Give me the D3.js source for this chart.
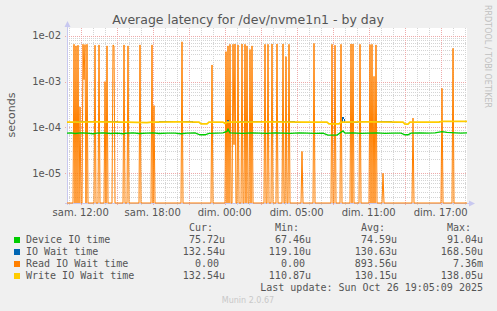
<!DOCTYPE html>
<html>
<head>
<meta charset="utf-8">
<script src="https://cdn.jsdelivr.net/npm/d3@7"></script>
<style>
  body { margin: 0; background: #f0f0f0; }
  svg { display: block; }
  text { font-family: "DejaVu Sans", sans-serif; }
  .mono { font-family: "DejaVu Sans Mono", monospace; font-size: 10px; fill: #555; white-space: pre; }
</style>
</head>
<body>
<div id="chart"></div>
<script>
// time window: 400 samples of 5 minutes
var startTime = new Date('2025-10-25T08:51:30Z');
var stepSec = 300;
var nSamples = 400;

var tickTimes = ['2025-10-25T10:00:00Z', '2025-10-25T16:00:00Z', '2025-10-25T22:00:00Z',
	'2025-10-26T04:00:00Z', '2025-10-26T10:00:00Z', '2025-10-26T16:00:00Z'];
var tickLabels = ['sam. 12:00', 'sam. 18:00', 'dim. 00:00', 'dim. 05:00', 'dim. 11:00', 'dim. 17:00'];
var yTicks = [1e-5, 1e-4, 1e-3, 1e-2];
var yTickLabels = ['1e-05', '1e-04', '1e-03', '1e-02'];

// [sample index, value] points
var deviceIO = [[0, 7.5e-5], [4, 7.6e-5], [8, 7.4e-5], [14, 7.6e-5], [20, 7.5e-5], [26, 7.3e-5], [30, 7.5e-5],
	[36, 7.6e-5], [44, 7.4e-5], [50, 7.5e-5], [56, 7.3e-5], [60, 7.5e-5], [66, 7.6e-5], [72, 7.4e-5],
	[80, 7.5e-5], [86, 7.6e-5], [92, 7.4e-5], [100, 7.5e-5], [108, 7.5e-5], [114, 7.3e-5], [120, 7.5e-5],
	[128, 7.6e-5], [133, 6.9e-5], [138, 6.9e-5], [142, 7.4e-5], [150, 7.5e-5], [156, 7.6e-5], [160, 8.2e-5],
	[161, 9.1e-5], [163, 7.6e-5], [168, 7.5e-5], [176, 7.4e-5], [184, 7.6e-5], [192, 7.5e-5], [200, 7.4e-5],
	[208, 7.6e-5], [216, 7.5e-5], [224, 7.4e-5], [232, 7.6e-5], [240, 7.5e-5], [248, 7.4e-5], [256, 7.5e-5],
	[261, 6.8e-5], [270, 6.8e-5], [276, 8.4e-5], [278, 7.5e-5], [286, 7.6e-5], [294, 7.4e-5], [302, 7.5e-5],
	[310, 7.6e-5], [318, 7.4e-5], [326, 7.5e-5], [334, 7.5e-5], [338, 6.9e-5], [341, 6.9e-5], [344, 7.5e-5],
	[352, 7.6e-5], [360, 7.5e-5], [368, 7.6e-5], [375, 8.1e-5], [380, 7.8e-5], [388, 7.6e-5], [394, 7.5e-5],
	[400, 7.6e-5]];
var ioWait = [[0, 1.31e-4], [30, 1.32e-4], [60, 1.31e-4], [80, 1.27e-4], [84, 1.31e-4], [110, 1.32e-4],
	[132, 1.31e-4], [134, 1.19e-4], [140, 1.19e-4], [142, 1.31e-4], [156, 1.31e-4], [158, 1.22e-4],
	[160, 1.31e-4], [161, 1.45e-4], [162, 1.31e-4], [200, 1.32e-4], [240, 1.31e-4], [260, 1.31e-4],
	[262, 1.19e-4], [272, 1.19e-4], [274, 1.31e-4], [275, 1.31e-4], [276, 1.7e-4], [277, 1.5e-4],
	[278, 1.31e-4], [285, 1.31e-4], [286, 1.4e-4], [287, 1.31e-4], [300, 1.32e-4], [336, 1.31e-4],
	[338, 1.18e-4], [341, 1.18e-4], [343, 1.31e-4], [372, 1.31e-4], [375, 1.36e-4], [400, 1.36e-4]];
var writeWait = [[0, 1.31e-4], [30, 1.32e-4], [60, 1.31e-4], [80, 1.27e-4], [84, 1.31e-4], [110, 1.32e-4],
	[132, 1.31e-4], [134, 1.19e-4], [140, 1.19e-4], [142, 1.31e-4], [156, 1.31e-4], [158, 1.22e-4],
	[160, 1.31e-4], [200, 1.32e-4], [240, 1.31e-4], [260, 1.31e-4], [262, 1.19e-4], [272, 1.19e-4],
	[274, 1.31e-4], [300, 1.32e-4], [336, 1.31e-4], [338, 1.18e-4], [341, 1.18e-4], [343, 1.31e-4],
	[372, 1.31e-4], [375, 1.36e-4], [400, 1.36e-4]];
// read io wait: every non zero sample, the rest is 0
var readSpikes = [[7, 6.5e-3], [9, 6.0e-3], [11, 6.2e-3], [13, 2.8e-4], [16, 6.5e-3], [17, 1.1e-3],
	[18, 6.4e-3], [20, 6.5e-3], [28, 6.2e-3], [32, 6.3e-3], [38, 1.0e-3], [40, 6e-3], [46, 6.3e-3],
	[47, 6e-3], [57, 6.3e-3], [61, 6e-3], [73, 6.3e-3], [85, 6.3e-3], [87, 3e-4], [115, 7.36e-3],
	[145, 2.3e-3], [159, 4.5e-3], [161, 6e-3], [163, 6.5e-3], [166, 6.5e-3], [167, 4.2e-5],
	[168, 6.6e-3], [171, 6.3e-3], [175, 6.6e-3], [178, 6.5e-3], [180, 6e-3], [183, 5e-3], [185, 6e-3],
	[198, 6.5e-3], [201, 6.5e-3], [205, 6.6e-3], [210, 6.6e-3], [216, 6.6e-3], [219, 3.5e-3],
	[222, 6.5e-3], [235, 3e-5], [247, 6.8e-3], [265, 6.5e-3], [268, 6.2e-3], [274, 6.5e-3],
	[284, 6.6e-3], [286, 6.6e-3], [293, 6.5e-3], [303, 6.4e-3], [305, 6.5e-3], [307, 1.3e-3],
	[309, 6.3e-3], [316, 1e-5], [346, 1.6e-4], [375, 7.1e-4], [386, 5.3e-3]];

var seriesNames = ['Device IO time', 'IO Wait time', 'Read IO Wait time', 'Write IO Wait time'];
var seriesColors = ['#00cc00', '#0066b3', '#ff8000', '#ffcc00'];
var curVals = ['75.72u', '132.54u', '0.00 ', '132.54u'];
var minVals = ['67.46u', '119.10u', '0.00 ', '110.87u'];
var avgVals = ['74.59u', '130.63u', '893.56u', '130.15u'];
var maxVals = ['91.04u', '168.50u', '7.36m', '138.05u'];

var W = 497, H = 311;
var plotL = 67, plotR = 467, plotT = 28, plotB = 203;

var svg = d3.select('#chart').append('svg')
	.attr('width', W)
	.attr('height', H);
svg.append('rect').attr('width', W).attr('height', H).attr('fill', '#f0f0f0');

var endTime = new Date(startTime.getTime() + nSamples * stepSec * 1000);
var x = d3.scaleUtc().domain([startTime, endTime]).range([plotL, plotR]);
var y = d3.scaleLog().domain([2.25e-6, 0.01472]).range([plotB, plotT]);

function sampleTime(i) { return new Date(startTime.getTime() + i * stepSec * 1000); }

svg.append('rect')
	.attr('x', plotL).attr('y', plotT)
	.attr('width', plotR - plotL).attr('height', plotB - plotT)
	.attr('fill', '#ffffff');

// grid
var grid = svg.append('g').attr('class', 'grid');
var minorY = [];
for (var e = -6; e <= -2; e++) {
	for (var m = 2; m <= 9; m++) {
		var v = m * Math.pow(10, e);
		if (v > y.domain()[0] && v < y.domain()[1]) minorY.push(v);
	}
}
grid.selectAll('line.minory').data(minorY).enter().append('line')
	.attr('x1', plotL).attr('x2', plotR)
	.attr('y1', function(d) { return Math.round(y(d)) + 0.5; })
	.attr('y2', function(d) { return Math.round(y(d)) + 0.5; })
	.attr('stroke', '#d4d4d4').attr('stroke-dasharray', '1,1');

var hours = d3.utcHour.range(startTime, endTime);
grid.selectAll('line.minorx').data(hours).enter().append('line')
	.attr('x1', function(d) { return Math.round(x(d)) + 0.5; })
	.attr('x2', function(d) { return Math.round(x(d)) + 0.5; })
	.attr('y1', plotT).attr('y2', plotB + 2)
	.attr('stroke', function(d) { return (d.getUTCHours() % 3 === 1) ? '#eeaaaa' : '#d4d4d4'; })
	.attr('stroke-dasharray', '1,1');

grid.selectAll('line.majory').data(yTicks).enter().append('line')
	.attr('x1', plotL - 2).attr('x2', plotR)
	.attr('y1', function(d) { return Math.round(y(d)) + 0.5; })
	.attr('y2', function(d) { return Math.round(y(d)) + 0.5; })
	.attr('stroke', '#eeaaaa').attr('stroke-dasharray', '1,1');

// axes
svg.append('line').attr('x1', plotL + 0.5).attr('x2', plotL + 0.5).attr('y1', plotT - 2).attr('y2', plotB + 2)
	.attr('stroke', '#c8c8f0');
svg.append('line').attr('x1', plotL - 2).attr('x2', plotR + 3).attr('y1', plotB + 0.5).attr('y2', plotB + 0.5)
	.attr('stroke', '#c8c8f0');
svg.append('path').attr('d', 'M' + (plotL - 2.5) + ',' + (plotT - 1) + 'L' + (plotL + 0.5) + ',' + (plotT - 7) + 'L' + (plotL + 3.5) + ',' + (plotT - 1) + 'Z')
	.attr('fill', '#c8c8f0');
svg.append('path').attr('d', 'M' + (plotR + 2) + ',' + (plotB - 2.5) + 'L' + (plotR + 8) + ',' + (plotB + 0.5) + 'L' + (plotR + 2) + ',' + (plotB + 3.5) + 'Z')
	.attr('fill', '#c8c8f0');

// series
function clampY(v) {
	var d = y.domain();
	return y(Math.min(Math.max(v, d[0]), d[1]));
}
var readSeries = d3.range(nSamples + 1).map(function(i) { return [i, 0]; });
readSpikes.forEach(function(s) { readSeries[s[0]] = s; });

var line = d3.line()
	.x(function(d) { return x(sampleTime(d[0])); })
	.y(function(d) { return clampY(d[1]); });

svg.append('path').datum(readSeries)
	.attr('d', line)
	.attr('fill', 'none').attr('stroke', seriesColors[2]).attr('stroke-width', 1);

svg.append('path').datum(deviceIO)
	.attr('d', line)
	.attr('fill', 'none').attr('stroke', seriesColors[0]).attr('stroke-width', 1.4);
svg.append('path').datum(ioWait)
	.attr('d', line)
	.attr('fill', 'none').attr('stroke', seriesColors[1]).attr('stroke-width', 1)
	.attr('shape-rendering', 'crispEdges');
svg.append('path').datum(writeWait)
	.attr('d', line)
	.attr('fill', 'none').attr('stroke', seriesColors[3]).attr('stroke-width', 1.7);

// tick labels
svg.selectAll('text.xlab').data(tickTimes).enter().append('text')
	.attr('x', function(d) { return x(new Date(d)); })
	.attr('y', 216)
	.attr('text-anchor', 'middle')
	.attr('font-size', 10).attr('fill', '#555')
	.text(function(d, i) { return tickLabels[i]; });
svg.selectAll('text.ylab').data(yTicks).enter().append('text')
	.attr('x', 61)
	.attr('y', function(d) { return y(d) + 3.5; })
	.attr('text-anchor', 'end')
	.attr('font-size', 10).attr('fill', '#555')
	.text(function(d, i) { return yTickLabels[i]; });

svg.append('text')
	.attr('transform', 'translate(15,115) rotate(-90)')
	.attr('text-anchor', 'middle')
	.attr('font-size', 11).attr('fill', '#555')
	.text('seconds');

svg.append('text')
	.attr('x', 248).attr('y', 24)
	.attr('text-anchor', 'middle')
	.attr('font-size', 12.5).attr('fill', '#555')
	.text('Average latency for /dev/nvme1n1 - by day');

svg.append('text')
	.attr('transform', 'translate(485,5) rotate(90)')
	.attr('font-size', 8).attr('fill', '#c0c0c0')
	.text('RRDTOOL / TOBI OETIKER');

// legend
var legend = svg.append('g');
var colEnds = [225, 311, 397, 483];
var headers = ['Cur:', 'Min:', 'Avg:', 'Max:'];
legend.selectAll('text.hdr').data(headers).enter().append('text')
	.attr('class', 'mono')
	.attr('x', function(d, i) { return colEnds[i] - 12; })
	.attr('y', 231)
	.attr('text-anchor', 'end')
	.text(function(d) { return d; });

seriesNames.forEach(function(name, i) {
	var by = 243 + i * 12;
	legend.append('rect')
		.attr('x', 14).attr('y', by - 6).attr('width', 6).attr('height', 6)
		.attr('fill', seriesColors[i]);
	legend.append('text').attr('class', 'mono').attr('x', 26).attr('y', by).text(name);
	[curVals, minVals, avgVals, maxVals].forEach(function(col, j) {
		legend.append('text').attr('class', 'mono')
			.attr('x', colEnds[j]).attr('y', by)
			.attr('text-anchor', 'end')
			.text(col[i]);
	});
});
legend.append('text').attr('class', 'mono')
	.attr('x', 483).attr('y', 291).attr('text-anchor', 'end')
	.text('Last update: Sun Oct 26 19:05:09 2025');

svg.append('text')
	.attr('x', 248).attr('y', 303)
	.attr('text-anchor', 'middle')
	.attr('font-size', 8).attr('fill', '#c8c8c8')
	.text('Munin 2.0.67');
</script>
</body>
</html>
